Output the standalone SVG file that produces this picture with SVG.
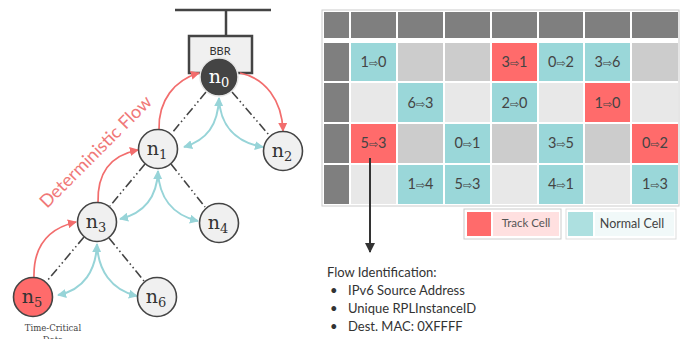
<svg xmlns="http://www.w3.org/2000/svg" width="688" height="339" viewBox="0 0 688 339">
<defs>
<style>
.dash{stroke:#444;stroke-width:1.6;fill:none;stroke-dasharray:9 3 1.5 3 1.5 3}
.teal{stroke:#97d4d8;stroke-width:2;fill:none}
.red{stroke:#f26d6d;stroke-width:1.7;fill:none}
.node{fill:#f0f0f0;stroke:#444;stroke-width:1.6}
.nt{font-family:"DejaVu Serif","Liberation Serif",serif;font-size:19px;fill:#333;text-anchor:middle}
.sub{font-size:13px}
.hd{fill:#7f7f7f}
.c1{fill:#9ad7d9}
.cr{fill:#ff6b6b}
.cg{fill:#cccccc}
.cl{fill:#e8e8e8}
.ct{font-family:"Lato","Open Sans",sans-serif;font-size:14.5px;fill:#444;text-anchor:middle}
.ar{font-family:"DejaVu Sans",sans-serif;font-size:11px}
.fi{font-family:"Lato","Open Sans",sans-serif;font-size:13px;fill:#333}
</style>
<marker id="mt" viewBox="0 0 10 10" refX="9" refY="5" markerWidth="9" markerHeight="9" markerUnits="userSpaceOnUse" orient="auto-start-reverse"><path d="M0,0 L10,5 L0,10 z" fill="#97d4d8"/></marker>
<marker id="mr" viewBox="0 0 10 10" refX="9" refY="5" markerWidth="9" markerHeight="9" markerUnits="userSpaceOnUse" orient="auto"><path d="M0,0 L10,5 L0,10 z" fill="#f26d6d"/></marker>
<marker id="mk" viewBox="0 0 10 10" refX="9" refY="5" markerWidth="10" markerHeight="10" markerUnits="userSpaceOnUse" orient="auto"><path d="M0,0 L10,5 L0,10 z" fill="#333"/></marker>
</defs>
<rect width="688" height="339" fill="#fff"/>

<g id="backbone" stroke="#444" stroke-width="2.5" fill="none">
<line x1="175" y1="10" x2="271" y2="10"/>
<line x1="226" y1="10" x2="226" y2="36"/>
</g>
<g id="bbr">
<rect x="189" y="36" width="63" height="37" fill="#f0f0f0" stroke="#444" stroke-width="2.5"/>
<text x="220" y="55" font-family="Lato,'Open Sans',sans-serif" font-size="11" fill="#333" text-anchor="middle">BBR</text>
</g>

<g id="connectors">
<line class="dash" x1="206" y1="92" x2="172" y2="133"/>
<line class="dash" x1="232" y1="92" x2="269" y2="135"/>
<line class="dash" x1="145" y1="164" x2="110" y2="206"/>
<line class="dash" x1="171" y1="164" x2="205" y2="207"/>
<line class="dash" x1="84" y1="237" x2="47" y2="281"/>
<line class="dash" x1="109" y1="238" x2="144" y2="281"/>

<path class="teal" d="M219,98 C218,125 207,140 184,147" marker-start="url(#mt)" marker-end="url(#mt)"/>
<path class="teal" d="M219,98 C220,125 235,142 263,147" marker-end="url(#mt)"/>
<path class="teal" d="M158,171 C157,197 145,213 120,219" marker-start="url(#mt)" marker-end="url(#mt)"/>
<path class="teal" d="M158,171 C159,197 172,215 198,221" marker-end="url(#mt)"/>
<path class="teal" d="M97,244 C96,270 84,290 58,295" marker-start="url(#mt)" marker-end="url(#mt)"/>
<path class="teal" d="M97,244 C98,270 111,290 137,296" marker-end="url(#mt)"/>

<path class="red" d="M34,278 C33,245 50,228 76,222" marker-end="url(#mr)"/>
<path class="red" d="M98,203 C97,172 112,155 138,150" marker-end="url(#mr)"/>
<path class="red" d="M159,130 C158,100 175,80 199,73" marker-end="url(#mr)"/>
<path class="red" d="M240,73 C265,78 282,100 283,131" marker-end="url(#mr)"/>
</g>

<g id="n0"><circle cx="219" cy="77" r="19" fill="#444" stroke="#e6e6e6" stroke-width="1.5"/><text class="nt" x="219" y="83" style="fill:#fff">n<tspan class="sub" dy="4">0</tspan></text></g>
<g id="n1"><circle class="node" cx="158" cy="149" r="19.5"/><text class="nt" x="157" y="155">n<tspan class="sub" dy="4">1</tspan></text></g>
<g id="n2"><circle class="node" cx="283" cy="151" r="19.5"/><text class="nt" x="282" y="157">n<tspan class="sub" dy="4">2</tspan></text></g>
<g id="n3"><circle class="node" cx="97" cy="222" r="19.5"/><text class="nt" x="96" y="228">n<tspan class="sub" dy="4">3</tspan></text></g>
<g id="n4"><circle class="node" cx="219" cy="223" r="19.5"/><text class="nt" x="218" y="229">n<tspan class="sub" dy="4">4</tspan></text></g>
<g id="n5"><circle cx="33" cy="297" r="19.5" fill="#ff6b6b" stroke="#444" stroke-width="1.6"/><text class="nt" x="32" y="303">n<tspan class="sub" dy="4">5</tspan></text></g>
<g id="n6"><circle class="node" cx="157" cy="297" r="19.5"/><text class="nt" x="156" y="303">n<tspan class="sub" dy="4">6</tspan></text></g>

<text x="100" y="156" transform="rotate(-45 100 156)" font-family="Lato,'Open Sans',sans-serif" font-size="18" fill="#f07878" text-anchor="middle" textLength="150" lengthAdjust="spacingAndGlyphs">Deterministic Flow</text>

<g id="label-n5" font-family="'DejaVu Serif','Liberation Serif',serif" font-size="8.5" fill="#444" text-anchor="middle">
<text x="53" y="331">Time-Critical</text>
<text x="53" y="343">Data</text>
</g>

<g id="grid">
<rect x="322" y="10" width="357" height="196" fill="#fff" stroke="#cccccc" stroke-width="1"/>
<g class="hd">
<rect x="324" y="12" width="25" height="26"/>
<rect x="351" y="12" width="45" height="26"/>
<rect x="398" y="12" width="45" height="26"/>
<rect x="445" y="12" width="45" height="26"/>
<rect x="492" y="12" width="45" height="26"/>
<rect x="539" y="12" width="44" height="26"/>
<rect x="585" y="12" width="45" height="26"/>
<rect x="632" y="12" width="46" height="26"/>
<rect x="324" y="43" width="25" height="38"/>
<rect x="324" y="83" width="25" height="39"/>
<rect x="324" y="124" width="25" height="39"/>
<rect x="324" y="165" width="25" height="39"/>
</g>
<rect class="c1" x="351" y="43" width="45" height="38"/>
<rect class="cg" x="398" y="43" width="45" height="38"/>
<rect class="cg" x="445" y="43" width="45" height="38"/>
<rect class="cr" x="492" y="43" width="45" height="38"/>
<rect class="c1" x="539" y="43" width="44" height="38"/>
<rect class="c1" x="585" y="43" width="45" height="38"/>
<rect class="cg" x="632" y="43" width="46" height="38"/>
<rect class="cl" x="351" y="83" width="45" height="39"/>
<rect class="c1" x="398" y="83" width="45" height="39"/>
<rect class="cl" x="445" y="83" width="45" height="39"/>
<rect class="c1" x="492" y="83" width="45" height="39"/>
<rect class="cl" x="539" y="83" width="44" height="39"/>
<rect class="cr" x="585" y="83" width="45" height="39"/>
<rect class="cl" x="632" y="83" width="46" height="39"/>
<rect class="cr" x="351" y="124" width="45" height="39"/>
<rect class="cg" x="398" y="124" width="45" height="39"/>
<rect class="c1" x="445" y="124" width="45" height="39"/>
<rect class="cg" x="492" y="124" width="45" height="39"/>
<rect class="c1" x="539" y="124" width="44" height="39"/>
<rect class="cg" x="585" y="124" width="45" height="39"/>
<rect class="cr" x="632" y="124" width="46" height="39"/>
<rect class="cl" x="351" y="165" width="45" height="39"/>
<rect class="c1" x="398" y="165" width="45" height="39"/>
<rect class="c1" x="445" y="165" width="45" height="39"/>
<rect class="cl" x="492" y="165" width="45" height="39"/>
<rect class="c1" x="539" y="165" width="44" height="39"/>
<rect class="cl" x="585" y="165" width="45" height="39"/>
<rect class="c1" x="632" y="165" width="46" height="39"/>

<g class="ct">
<text x="373.5" y="67">1<tspan class="ar">⇨</tspan>0</text>
<text x="514.5" y="67">3<tspan class="ar">⇨</tspan>1</text>
<text x="561" y="67">0<tspan class="ar">⇨</tspan>2</text>
<text x="607.5" y="67">3<tspan class="ar">⇨</tspan>6</text>
<text x="420.5" y="108">6<tspan class="ar">⇨</tspan>3</text>
<text x="514.5" y="108">2<tspan class="ar">⇨</tspan>0</text>
<text x="607.5" y="108">1<tspan class="ar">⇨</tspan>0</text>
<text x="373.5" y="148">5<tspan class="ar">⇨</tspan>3</text>
<text x="467.5" y="148">0<tspan class="ar">⇨</tspan>1</text>
<text x="561" y="148">3<tspan class="ar">⇨</tspan>5</text>
<text x="655" y="148">0<tspan class="ar">⇨</tspan>2</text>
<text x="420.5" y="189">1<tspan class="ar">⇨</tspan>4</text>
<text x="467.5" y="189">5<tspan class="ar">⇨</tspan>3</text>
<text x="561" y="189">4<tspan class="ar">⇨</tspan>1</text>
<text x="655" y="189">1<tspan class="ar">⇨</tspan>3</text>
</g>
</g>

<g id="legend">
<rect x="464" y="209" width="97" height="30" fill="#fff" stroke="#cccccc"/>
<rect x="467" y="212" width="24" height="24" fill="#ff6b6b"/>
<rect x="493" y="212" width="66" height="24" fill="#ffe0e0"/>
<text x="526" y="227" font-family="Lato,'Open Sans',sans-serif" font-size="11.5" fill="#555" text-anchor="middle">Track Cell</text>
<rect x="566" y="209" width="110" height="30" fill="#fff" stroke="#dddddd"/>
<rect x="568" y="212" width="25" height="24" fill="#ade0e0"/>
<rect x="595" y="212" width="79" height="24" fill="#f1f9f9"/>
<text x="632" y="228" font-family="Lato,'Open Sans',sans-serif" font-size="12.5" fill="#444" text-anchor="middle">Normal Cell</text>
</g>

<g id="flow-arrow">
<line x1="370" y1="158" x2="370" y2="252" stroke="#333" stroke-width="2" marker-end="url(#mk)"/>
</g>

<g id="flow-id" class="fi">
<text x="327" y="277">Flow Identification:</text>
<text x="330" y="295">•</text><text x="348" y="295">IPv6 Source Address</text>
<text x="330" y="313">•</text><text x="348" y="313">Unique RPLInstanceID</text>
<text x="330" y="331">•</text><text x="348" y="331">Dest. MAC: 0XFFFF</text>
</g>
</svg>
